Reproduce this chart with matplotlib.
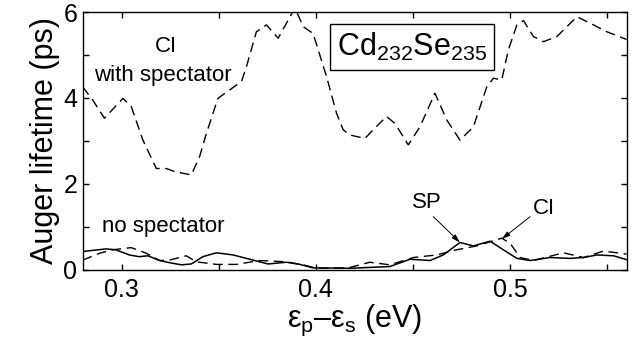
import matplotlib
matplotlib.use('Agg')
import matplotlib.pyplot as plt

plt.rcParams['font.family'] = ['Liberation Sans', 'DejaVu Sans']
plt.rcParams['mathtext.fontset'] = 'custom'
plt.rcParams['mathtext.rm'] = 'Liberation Sans'
plt.rcParams['mathtext.it'] = 'Liberation Sans'

# CI with spectator (upper dashed curve)
x_spec = [0.28, 0.2852, 0.2912, 0.3007, 0.305, 0.311, 0.3179, 0.323, 0.3273, 0.3359,
          0.3402, 0.3437, 0.3496, 0.3557, 0.3617, 0.3643, 0.3694, 0.3746, 0.3806, 0.3849,
          0.3892, 0.3935, 0.3986, 0.4055, 0.4107, 0.4141, 0.4175, 0.4253, 0.4295, 0.4364,
          0.4407, 0.4476, 0.4536, 0.4613, 0.4674, 0.4742, 0.4811, 0.4880, 0.4914, 0.4957,
          0.4991, 0.5035, 0.5069, 0.5120, 0.5172, 0.5241, 0.5344, 0.5412, 0.5498, 0.56]
y_spec = [4.26, 3.95, 3.53, 3.99, 3.80, 3.02, 2.36, 2.36, 2.29, 2.21,
          2.64, 3.18, 3.99, 4.19, 4.38, 4.73, 5.54, 5.70, 5.39, 5.74,
          6.10, 5.66, 5.50, 4.50, 3.64, 3.26, 3.14, 3.06, 3.26, 3.57,
          3.41, 2.91, 3.33, 4.11, 3.49, 3.02, 3.33, 4.26, 4.46, 4.42,
          5.12, 5.70, 5.80, 5.43, 5.31, 5.43, 5.89, 5.74, 5.54, 5.36]

# SP, no spectator (solid)
x_sp = [0.28, 0.292, 0.297, 0.304, 0.309, 0.3136, 0.3196, 0.3247, 0.3308, 0.3359,
        0.3419, 0.3488, 0.3574, 0.366, 0.3754, 0.3849, 0.3918, 0.3986, 0.4175, 0.4381,
        0.4485, 0.4588, 0.4656, 0.4742, 0.4811, 0.4897, 0.4965, 0.5035, 0.5103, 0.5206,
        0.5309, 0.5378, 0.5447, 0.5533, 0.56]
y_sp = [0.43, 0.49, 0.47, 0.35, 0.31, 0.33, 0.22, 0.17, 0.12, 0.14,
        0.31, 0.40, 0.35, 0.25, 0.14, 0.18, 0.13, 0.05, 0.04, 0.08,
        0.25, 0.22, 0.35, 0.64, 0.56, 0.67, 0.47, 0.27, 0.22, 0.29,
        0.27, 0.29, 0.35, 0.33, 0.24]

# CI, no spectator (lower dashed)
x_ci = [0.28, 0.2887, 0.2955, 0.305, 0.3127, 0.3196, 0.3247, 0.3333, 0.3385, 0.3488,
        0.3591, 0.3711, 0.3849, 0.3935, 0.4003, 0.4167, 0.4278, 0.4381, 0.4502, 0.4622,
        0.4725, 0.4828, 0.4957, 0.5, 0.5052, 0.512, 0.5275, 0.5378, 0.5481, 0.56]
y_ci = [0.23, 0.39, 0.47, 0.52, 0.39, 0.22, 0.23, 0.33, 0.19, 0.13,
        0.13, 0.22, 0.19, 0.12, 0.04, 0.05, 0.18, 0.12, 0.29, 0.35,
        0.47, 0.56, 0.74, 0.62, 0.29, 0.22, 0.40, 0.29, 0.44, 0.37]

fig = plt.figure(figsize=(6.37, 3.51), dpi=100)
ax = fig.add_axes([0.1298, 0.2308, 0.854, 0.735])

dash = (7, 4)
ax.plot(x_spec, y_spec, color='black', lw=1.0, dashes=dash)
ax.plot(x_ci, y_ci, color='black', lw=1.0, dashes=dash)
ax.plot(x_sp, y_sp, color='black', lw=1.1)

ax.set_xlim(0.28, 0.56)
ax.set_ylim(0, 6)
ax.set_xticks([0.3, 0.35, 0.4, 0.45, 0.5, 0.55])
ax.set_xticklabels(['0.3', '', '0.4', '', '0.5', ''])
ax.set_yticks([0, 1, 2, 3, 4, 5, 6])
ax.set_yticklabels(['0', '', '2', '', '4', '', '6'])
ax.tick_params(direction='in', top=True, right=True, length=4, width=1,
               labelsize=18)
ax.tick_params(axis='x', pad=6)
ax.tick_params(axis='y', pad=4)
for s in ax.spines.values():
    s.set_linewidth(1.0)

ax.set_xlabel(r'$\mathrm{ε}_\mathrm{p}$–$\mathrm{ε}_\mathrm{s}$ (eV)', fontsize=22, labelpad=0)
ax.set_ylabel('Auger lifetime (ps)', fontsize=22, labelpad=2)

ax.text(0.323, 5.19, 'CI', fontsize=16, ha='center', va='center')
ax.text(0.3213, 4.53, 'with spectator', fontsize=16, ha='center', va='center')
ax.text(0.3213, 1.01, 'no spectator', fontsize=16, ha='center', va='center')
ax.text(0.4497, 5.19, r'$\mathrm{Cd}_{232}\mathrm{Se}_{235}$', fontsize=22,
        ha='center', va='center',
        bbox=dict(boxstyle='square,pad=0.23', facecolor='white', edgecolor='black', lw=1))

ax.text(0.457, 1.58, 'SP', fontsize=16, ha='center', va='center')
ax.text(0.5172, 1.43, 'CI', fontsize=16, ha='center', va='center')
ax.annotate('', xy=(0.4742, 0.64), xytext=(0.4605, 1.24),
            arrowprops=dict(arrowstyle='-|>,head_length=0.5,head_width=0.15',
                            color='black', lw=0.7, shrinkA=0, shrinkB=0))
ax.annotate('', xy=(0.4957, 0.72), xytext=(0.5103, 1.24),
            arrowprops=dict(arrowstyle='-|>,head_length=0.5,head_width=0.15',
                            color='black', lw=0.7, shrinkA=0, shrinkB=0))

fig.savefig('out.png', dpi=100, facecolor='white')
